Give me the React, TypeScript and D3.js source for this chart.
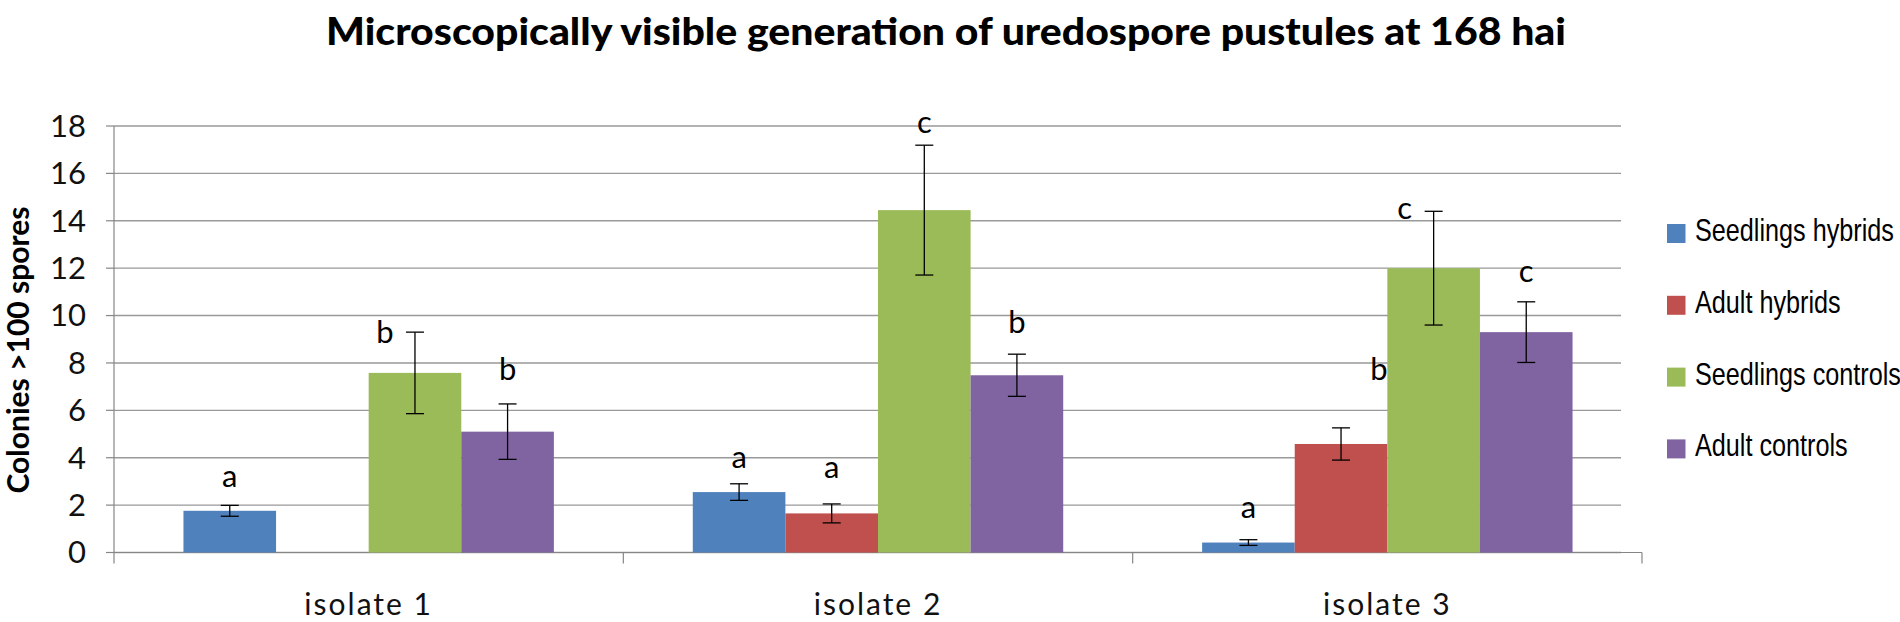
import React from 'react';
import * as d3 from 'd3';

const isolates = ['isolate 1', 'isolate 2', 'isolate 3'];
const seriesNames = ['Seedlings hybrids', 'Adult hybrids', 'Seedlings controls', 'Adult controls'];
const seriesColors = ['#4F81BD', '#C0504D', '#9BBB59', '#8064A2'];

// mean colonies per isolate (null = no bar)
const seedlingsHybrids = [1.76, 2.55, 0.42];
const adultHybrids = [null, 1.65, 4.58];
const seedlingsControls = [7.58, 14.45, 12.0];
const adultControls = [5.1, 7.48, 9.3];

// error bar half widths
const seedlingsHybridsErr = [0.23, 0.35, 0.12];
const adultHybridsErr = [null, 0.4, 0.68];
const seedlingsControlsErr = [1.72, 2.74, 2.4];
const adultControlsErr = [1.17, 0.89, 1.28];

// significance letters and the value their baseline sits at
const seedlingsHybridsLetters = ['a', 'a', 'a'];
const adultHybridsLetters = ['', 'a', 'b'];
const seedlingsControlsLetters = ['b', 'c', 'c'];
const adultControlsLetters = ['b', 'b', 'c'];
const seedlingsHybridsLetterAt = [2.76, 3.55, 1.44];
const adultHybridsLetterAt = [null, 3.13, 7.28];
const seedlingsControlsLetterAt = [8.83, 17.7, 14.07];
const adultControlsLetterAt = [7.28, 9.25, 11.43];

const values = [seedlingsHybrids, adultHybrids, seedlingsControls, adultControls];
const errors = [seedlingsHybridsErr, adultHybridsErr, seedlingsControlsErr, adultControlsErr];
const letters = [seedlingsHybridsLetters, adultHybridsLetters, seedlingsControlsLetters, adultControlsLetters];
const letterAt = [seedlingsHybridsLetterAt, adultHybridsLetterAt, seedlingsControlsLetterAt, adultControlsLetterAt];
// hand placed letters that sit off the bar centre (px)
const letterShift = [[0, 0, 0], [0, 0, 38], [-30, 0, -29], [0, 0, 0]];

const yMax = 18;

export default function App() {
  const width = 1900;
  const height = 622;
  const left = 114;
  const axisRight = 1642;
  const gridRight = 1621;
  const top = 126;
  const bottom = 552.5;

  const x0 = d3.scaleBand().domain(isolates).range([left, axisRight]);
  const bw = x0.bandwidth();
  const gap = (bw * 1.5) / 5.5;
  const x1 = d3.scaleBand().domain(seriesNames).range([gap / 2, bw - gap / 2]);
  const y = d3.scaleLinear().domain([0, yMax]).range([bottom, top]);
  const yTicks = y.ticks(9);

  const font = 'Lato, "Open Sans", sans-serif';
  const capW = 18;

  const catEdges = [...isolates.map(d => x0(d)!), axisRight];

  return (
    <div style={{ position: 'absolute', left: 0, top: 0 }}>
      <svg width={width} height={height} style={{ display: 'block', background: '#fff' }}>
        <text x={946} y={45} textAnchor="middle" fontFamily={font} fontWeight="900" fontSize={37}
          textLength={1240} lengthAdjust="spacingAndGlyphs">
          Microscopically visible generation of uredospore pustules at 168 hai
        </text>

        {/* gridlines */}
        {yTicks.map(t => (
          <line key={t} x1={left} x2={gridRight} y1={y(t)} y2={y(t)} stroke="#999" strokeWidth={1.4} />
        ))}

        {/* y axis */}
        <line x1={left} x2={left} y1={top} y2={bottom} stroke="#868686" strokeWidth={1.2} />
        {yTicks.map(t => (
          <g key={'yt' + t}>
            <line x1={left - 8} x2={left} y1={y(t)} y2={y(t)} stroke="#868686" strokeWidth={1.2} />
            <text x={86} y={y(t)} dy="0.35em" textAnchor="end" fontFamily={font} fontSize={31} fill="#111">{t}</text>
          </g>
        ))}
        <text transform={`translate(29,350) rotate(-90)`} textAnchor="middle" fontFamily={font}
          fontWeight="bold" fontSize={30} fill="#000">Colonies &gt;100 spores</text>

        {/* x axis */}
        <line x1={left} x2={axisRight} y1={bottom} y2={bottom} stroke="#868686" strokeWidth={1.2} />
        {catEdges.map((e, i) => (
          <line key={'xt' + i} x1={e} x2={e} y1={bottom} y2={bottom + 11} stroke="#868686" strokeWidth={1.2} />
        ))}
        {isolates.map(d => (
          <text key={d} x={x0(d)! + bw / 2} y={615} textAnchor="middle" fontFamily={font} fontSize={30}
            letterSpacing={2} fill="#111">{d}</text>
        ))}

        {/* bars */}
        {values.map((series, si) => (
          <g key={'s' + si}>
            {series.map((v, ci) => {
              if (v == null) return null;
              const bx = x0(isolates[ci])! + x1(seriesNames[si])!;
              return (
                <rect key={ci} x={bx} y={y(v)} width={x1.bandwidth()} height={bottom - y(v)}
                  fill={seriesColors[si]} />
              );
            })}
          </g>
        ))}

        {/* error bars */}
        {values.map((series, si) => (
          <g key={'e' + si} stroke="#000" strokeWidth={1.3}>
            {series.map((v, ci) => {
              const e = errors[si][ci];
              if (v == null || e == null) return null;
              const cx = x0(isolates[ci])! + x1(seriesNames[si])! + x1.bandwidth() / 2;
              return (
                <g key={ci}>
                  <line x1={cx} x2={cx} y1={y(v + e)} y2={y(v - e)} />
                  <line x1={cx - capW / 2} x2={cx + capW / 2} y1={y(v + e)} y2={y(v + e)} />
                  <line x1={cx - capW / 2} x2={cx + capW / 2} y1={y(v - e)} y2={y(v - e)} />
                </g>
              );
            })}
          </g>
        ))}

        {/* significance letters */}
        {letters.map((row, si) => (
          <g key={'l' + si}>
            {row.map((l, ci) => {
              const at = letterAt[si][ci];
              if (!l || at == null) return null;
              const cx = x0(isolates[ci])! + x1(seriesNames[si])! + x1.bandwidth() / 2 + letterShift[si][ci];
              return (
                <text key={ci} x={cx} y={y(at)} textAnchor="middle" fontFamily={font} fontSize={31} fill="#000">{l}</text>
              );
            })}
          </g>
        ))}

        {/* legend */}
        {seriesNames.map((name, i) => {
          const cy = 233.5 + i * 71.8;
          return (
            <g key={name}>
              <rect x={1667} y={cy - 9.5} width={18.5} height={19} fill={seriesColors[i]} />
              <text transform={`translate(1695,${cy + 7.5}) scale(0.8,1)`} fontFamily='"Liberation Sans", Arial, sans-serif'
                fontSize={31.5} fill="#000">{name}</text>
            </g>
          );
        })}
      </svg>
    </div>
  );
}
